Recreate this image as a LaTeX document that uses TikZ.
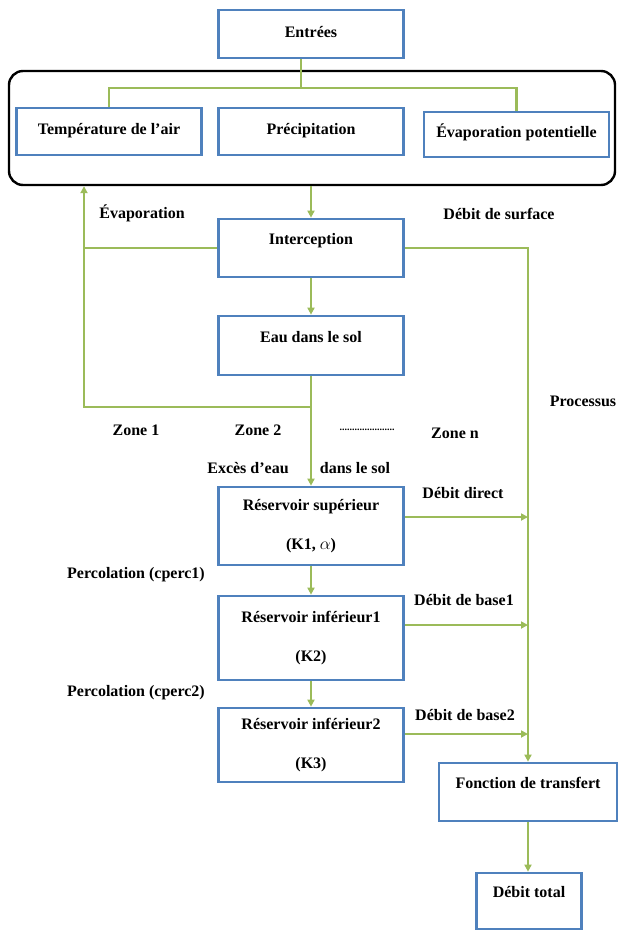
\documentclass[tikz,border=0pt]{standalone}
\usepackage{fontspec}
\setmainfont{Liberation Serif}
\usetikzlibrary{arrows.meta}
\definecolor{bleu}{RGB}{79,129,189}
\definecolor{vert}{RGB}{155,187,89}

\begin{document}
\begin{tikzpicture}[x=1pt,y=-1pt,
  boite/.style={draw=bleu,line width=2.7pt,minimum width=185pt,font=\bfseries\fontsize{16}{19}\selectfont},
  ligne/.style={text height=11pt,text depth=4pt},
  haut/.style={text height=11pt,text depth=18pt},
  flux/.style={draw=vert,line width=2.7pt},
  fl/.style={flux,-{Triangle[length=7pt,width=7pt]}},
  etiq/.style={font=\bfseries\fontsize{16}{19}\selectfont,inner sep=0pt}]

\useasboundingbox (0,0) rectangle (618,931);

\node[boite,ligne,minimum height=48pt] (ent) at (311,34) {Entrées};
\node[draw,line width=2.4pt,rounded corners=14pt,minimum width=606pt,minimum height=114pt] (cadre) at (312,128) {};
\node[boite,ligne,minimum height=47pt] (temp) at (109,131.5) {Température de l’air};
\node[boite,ligne,minimum height=47pt] (prec) at (311,131.5) {Précipitation};
\node[boite,ligne,minimum height=45pt] (evp) at (516.5,134.5) {Évaporation potentielle};

\node[boite,haut,minimum height=58pt] (inter) at (311,248) {Interception};
\node[boite,haut,minimum height=59pt] (eau) at (311,345.5) {Eau dans le sol};
\node[boite,align=center,minimum height=78pt] (rs) at (311,526) {Réservoir supérieur\\[20pt](K1, $\alpha$)};
\node[boite,align=center,minimum height=84pt] (ri1) at (311,638) {Réservoir inférieur1\\[20pt](K2)};
\node[boite,align=center,minimum height=74pt] (ri2) at (311,745) {Réservoir inférieur2\\[20pt](K3)};
\node[boite,haut,minimum width=178pt,minimum height=58pt] (ft) at (528,792) {Fonction de transfert};
\node[boite,haut,minimum width=105pt,minimum height=56pt] (dt) at (529,901) {Débit total};

\node[etiq] (evap) at (142,213) {Évaporation};
\node[etiq] (dsurf) at (499,214) {Débit de surface};
\node[etiq] (proc) at (583,401) {Processus};
\node[etiq] (z1) at (136,430) {Zone 1};
\node[etiq] (z2) at (258,430) {Zone 2};
\node[etiq,font=\bfseries\fontsize{10}{10}\selectfont] (pts) at (367,430) {......................};
\node[etiq] (zn) at (455,433) {Zone n};
\node[etiq] (exc) at (248,468) {Excès d’eau};
\node[etiq] (dsol) at (355,468) {dans le sol};
\node[etiq] (ddir) at (463,493) {Débit direct};
\node[etiq] (perc1) at (136,575) {Percolation (cperc1)};
\node[etiq] (db1) at (464,600) {Débit de base1};
\node[etiq] (perc2) at (136,693) {Percolation (cperc2)};
\node[etiq] (db2) at (465,715) {Débit de base2};

\coordinate (split) at (301,88);
\coordinate (zone) at (311,407);
\coordinate (ret) at (84,407);

\draw[flux] (ent.south -| split) -- (split);
\draw[flux] (temp.north) |- (split) -| (evp.north);
\draw[fl] (inter.north |- cadre.south) -- (inter.north);
\draw[fl] (inter.north |- inter.south) -- (eau.north);
\draw[fl] (eau.south) -- (rs.north);
\draw[fl] (zone) -- (ret) -- (ret |- cadre.south);
\draw[flux] (inter.west) -- (inter.west -| ret);
\draw[fl] (inter.east) -| (ft.north);

\draw[fl] ([yshift=9pt]rs.east) -- ([yshift=9pt]rs.east -| ft.north);
\draw[fl] ([yshift=13pt]ri1.east) -- ([yshift=13pt]ri1.east -| ft.north);
\draw[fl] ([yshift=11pt]ri2.east) -- ([yshift=11pt]ri2.east -| ft.north);
\draw[fl] (rs.south) -- (ri1.north);
\draw[fl] (ri1.south) -- (ri2.north);
\draw[fl] (ft.south) -- (ft.south |- dt.north);

\end{tikzpicture}
\end{document}
